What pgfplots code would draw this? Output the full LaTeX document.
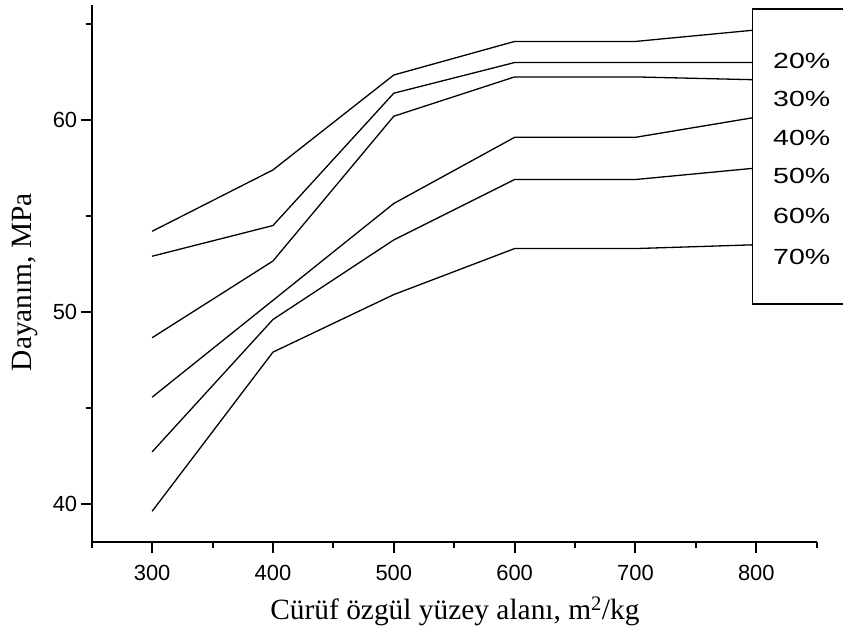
\documentclass[border=0pt]{standalone}
\usepackage{fontspec}
\setmainfont{Liberation Sans}
\newfontfamily\seriffont{Liberation Serif}
\newfontfamily\legfont[FakeStretch=1.3]{Liberation Sans}
\usepackage{pgfplots}
\pgfplotsset{compat=1.18}
\begin{document}
\begin{tikzpicture}
\begin{axis}[
  at={(91.7bp,92bp)}, anchor=south west,
  scale only axis, width=725bp, height=537bp,
  xmin=250, xmax=850, ymin=38, ymax=66,
  axis x line*=bottom, axis y line*=left,
  xtick={300,400,...,800}, minor xtick={250,350,...,850},
  ytick={40,50,60}, minor ytick={45,55,65},
  tick align=outside, major tick length=11bp, minor tick length=6bp,
  axis line style={line width=2bp, black},
  every tick/.style={line width=2bp, black},
  tick label style={font=\fontsize{22}{22}\selectfont},
  xticklabel style={yshift=-9bp},
  /pgf/number format/assume math mode=true,
  xlabel={Cürüf özgül yüzey alanı, m\textsuperscript{2}/kg},
  ylabel={Dayanım, MPa},
  xlabel style={font=\seriffont\fontsize{29.5}{30}\selectfont, at={(axis description cs:0.501,-0.1434)}, anchor=base},
  ylabel style={font=\seriffont\fontsize{29.5}{30}\selectfont, at={(axis description cs:-0.092,0.484)}, anchor=center},
  clip=false,
]
\addplot[black, line width=1.3bp, mark=none] coordinates {(300,54.2) (400,57.4) (500,62.35) (600,64.1) (700,64.1) (800,64.7)};
\addplot[black, line width=1.3bp, mark=none] coordinates {(300,52.9) (400,54.5) (500,61.4) (600,63.0) (700,63.0) (800,63.0)};
\addplot[black, line width=1.3bp, mark=none] coordinates {(300,48.65) (400,52.65) (500,60.2) (600,62.25) (700,62.25) (800,62.1)};
\addplot[black, line width=1.3bp, mark=none] coordinates {(300,45.55) (400,50.6) (500,55.65) (600,59.1) (700,59.1) (800,60.15)};
\addplot[black, line width=1.3bp, mark=none] coordinates {(300,42.7) (400,49.6) (500,53.75) (600,56.9) (700,56.9) (800,57.5)};
\addplot[black, line width=1.3bp, mark=none] coordinates {(300,39.6) (400,47.9) (500,50.9) (600,53.3) (700,53.3) (800,53.5)};
\end{axis}
\filldraw[fill=white, draw=black, line width=1.3bp] (752.7bp,625bp) rectangle (880bp,330bp);
\begin{scope}[every node/.style={anchor=base west, inner sep=0pt, font=\legfont\fontsize{22}{22}\selectfont}]
\node at (773bp,565.5bp) {20\%};
\node at (773bp,527.8bp) {30\%};
\node at (773bp,488.8bp) {40\%};
\node at (773bp,450.1bp) {50\%};
\node at (773bp,410.4bp) {60\%};
\node at (773bp,369.4bp) {70\%};
\end{scope}
\pgfresetboundingbox
\useasboundingbox (0,0) rectangle (843bp,634bp);
\end{tikzpicture}
\end{document}
